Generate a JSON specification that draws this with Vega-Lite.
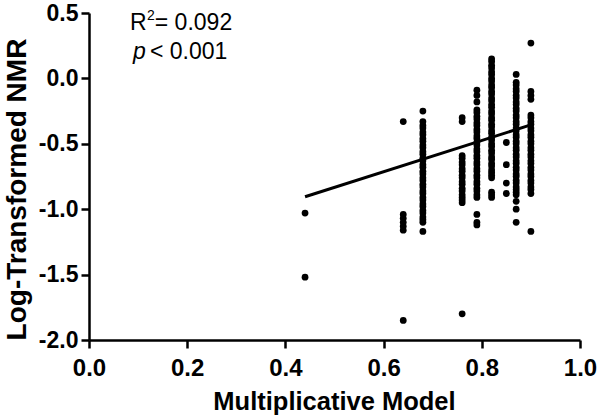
{
  "$schema": "https://vega.github.io/schema/vega-lite/v6.json",
  "autosize": {"type": "none"},
  "width": 491,
  "height": 327,
  "padding": {"left": 89, "top": 13, "right": 20, "bottom": 77},
  "background": "white",
  "config": {
    "view": {"stroke": null},
    "font": "Liberation Sans",
    "axis": {
      "grid": false,
      "labelFlush": false,
      "labelOverlap": false,
      "domainColor": "black",
      "domainWidth": 2.5,
      "tickColor": "black",
      "tickWidth": 2.5,
      "tickSize": 8,
      "labelColor": "black",
      "labelFont": "Liberation Sans",
      "labelFontWeight": "bold",
      "titleFont": "Liberation Sans",
      "titleFontWeight": "bold",
      "titleColor": "black"
    }
  },
  "datasets": {
    "pts": [
      {"x":0.44,"y":-1.03},{"x":0.44,"y":-1.52},
      {"x":0.64,"y":-0.33},{"x":0.64,"y":-1.04},{"x":0.64,"y":-1.07},{"x":0.64,"y":-1.10},{"x":0.64,"y":-1.13},{"x":0.64,"y":-1.16},{"x":0.64,"y":-1.85},
      {"x":0.68,"y":-0.25},{"x":0.68,"y":-0.33},{"x":0.68,"y":-0.36},{"x":0.68,"y":-0.38},{"x":0.68,"y":-0.41},{"x":0.68,"y":-0.43},{"x":0.68,"y":-0.46},{"x":0.68,"y":-0.48},{"x":0.68,"y":-0.51},{"x":0.68,"y":-0.53},{"x":0.68,"y":-0.56},{"x":0.68,"y":-0.58},{"x":0.68,"y":-0.61},{"x":0.68,"y":-0.63},{"x":0.68,"y":-0.66},{"x":0.68,"y":-0.68},{"x":0.68,"y":-0.71},{"x":0.68,"y":-0.73},{"x":0.68,"y":-0.76},{"x":0.68,"y":-0.78},{"x":0.68,"y":-0.81},{"x":0.68,"y":-0.83},{"x":0.68,"y":-0.86},{"x":0.68,"y":-0.88},{"x":0.68,"y":-0.91},{"x":0.68,"y":-0.93},{"x":0.68,"y":-0.96},{"x":0.68,"y":-0.98},{"x":0.68,"y":-1.01},{"x":0.68,"y":-1.03},{"x":0.68,"y":-1.06},{"x":0.68,"y":-1.08},{"x":0.68,"y":-1.10},{"x":0.68,"y":-1.17},
      {"x":0.76,"y":-0.30},{"x":0.76,"y":-0.33},{"x":0.76,"y":-0.59},{"x":0.76,"y":-0.61},{"x":0.76,"y":-0.64},{"x":0.76,"y":-0.66},{"x":0.76,"y":-0.69},{"x":0.76,"y":-0.71},{"x":0.76,"y":-0.74},{"x":0.76,"y":-0.76},{"x":0.76,"y":-0.79},{"x":0.76,"y":-0.81},{"x":0.76,"y":-0.84},{"x":0.76,"y":-0.86},{"x":0.76,"y":-0.89},{"x":0.76,"y":-0.91},{"x":0.76,"y":-0.93},{"x":0.76,"y":-0.95},{"x":0.76,"y":-1.80},
      {"x":0.79,"y":-0.09},{"x":0.79,"y":-0.13},{"x":0.79,"y":-0.18},{"x":0.79,"y":-0.24},{"x":0.79,"y":-0.26},{"x":0.79,"y":-0.29},{"x":0.79,"y":-0.31},{"x":0.79,"y":-0.34},{"x":0.79,"y":-0.36},{"x":0.79,"y":-0.39},{"x":0.79,"y":-0.41},{"x":0.79,"y":-0.44},{"x":0.79,"y":-0.46},{"x":0.79,"y":-0.49},{"x":0.79,"y":-0.51},{"x":0.79,"y":-0.54},{"x":0.79,"y":-0.56},{"x":0.79,"y":-0.59},{"x":0.79,"y":-0.61},{"x":0.79,"y":-0.64},{"x":0.79,"y":-0.66},{"x":0.79,"y":-0.69},{"x":0.79,"y":-0.71},{"x":0.79,"y":-0.74},{"x":0.79,"y":-0.76},{"x":0.79,"y":-0.79},{"x":0.79,"y":-0.81},{"x":0.79,"y":-0.84},{"x":0.79,"y":-0.86},{"x":0.79,"y":-0.89},{"x":0.79,"y":-0.91},{"x":0.79,"y":-1.04},{"x":0.79,"y":-1.10},{"x":0.79,"y":-1.12},
      {"x":0.82,"y":0.15},{"x":0.82,"y":0.13},{"x":0.82,"y":0.10},{"x":0.82,"y":0.08},{"x":0.82,"y":0.05},{"x":0.82,"y":0.03},{"x":0.82,"y":0.00},{"x":0.82,"y":-0.02},{"x":0.82,"y":-0.05},{"x":0.82,"y":-0.07},{"x":0.82,"y":-0.10},{"x":0.82,"y":-0.12},{"x":0.82,"y":-0.15},{"x":0.82,"y":-0.17},{"x":0.82,"y":-0.20},{"x":0.82,"y":-0.22},{"x":0.82,"y":-0.25},{"x":0.82,"y":-0.27},{"x":0.82,"y":-0.30},{"x":0.82,"y":-0.32},{"x":0.82,"y":-0.35},{"x":0.82,"y":-0.37},{"x":0.82,"y":-0.40},{"x":0.82,"y":-0.42},{"x":0.82,"y":-0.45},{"x":0.82,"y":-0.47},{"x":0.82,"y":-0.50},{"x":0.82,"y":-0.52},{"x":0.82,"y":-0.55},{"x":0.82,"y":-0.57},{"x":0.82,"y":-0.60},{"x":0.82,"y":-0.62},{"x":0.82,"y":-0.65},{"x":0.82,"y":-0.67},{"x":0.82,"y":-0.70},{"x":0.82,"y":-0.72},{"x":0.82,"y":-0.74},{"x":0.82,"y":-0.76},{"x":0.82,"y":-0.87},{"x":0.82,"y":-0.89},{"x":0.82,"y":-0.91},
      {"x":0.85,"y":-0.49},{"x":0.85,"y":-0.66},{"x":0.85,"y":-0.80},{"x":0.85,"y":-0.88},
      {"x":0.87,"y":0.03},{"x":0.87,"y":-0.03},{"x":0.87,"y":-0.05},{"x":0.87,"y":-0.08},{"x":0.87,"y":-0.10},{"x":0.87,"y":-0.13},{"x":0.87,"y":-0.15},{"x":0.87,"y":-0.18},{"x":0.87,"y":-0.20},{"x":0.87,"y":-0.23},{"x":0.87,"y":-0.25},{"x":0.87,"y":-0.28},{"x":0.87,"y":-0.30},{"x":0.87,"y":-0.33},{"x":0.87,"y":-0.35},{"x":0.87,"y":-0.38},{"x":0.87,"y":-0.40},{"x":0.87,"y":-0.43},{"x":0.87,"y":-0.45},{"x":0.87,"y":-0.48},{"x":0.87,"y":-0.50},{"x":0.87,"y":-0.53},{"x":0.87,"y":-0.55},{"x":0.87,"y":-0.58},{"x":0.87,"y":-0.60},{"x":0.87,"y":-0.63},{"x":0.87,"y":-0.65},{"x":0.87,"y":-0.68},{"x":0.87,"y":-0.70},{"x":0.87,"y":-0.73},{"x":0.87,"y":-0.75},{"x":0.87,"y":-0.78},{"x":0.87,"y":-0.80},{"x":0.87,"y":-0.83},{"x":0.87,"y":-0.85},{"x":0.87,"y":-0.87},{"x":0.87,"y":-0.89},{"x":0.87,"y":-0.94},{"x":0.87,"y":-1.00},{"x":0.87,"y":-1.10},
      {"x":0.90,"y":0.27},{"x":0.90,"y":-0.10},{"x":0.90,"y":-0.13},{"x":0.90,"y":-0.16},{"x":0.90,"y":-0.28},{"x":0.90,"y":-0.30},{"x":0.90,"y":-0.33},{"x":0.90,"y":-0.35},{"x":0.90,"y":-0.38},{"x":0.90,"y":-0.40},{"x":0.90,"y":-0.43},{"x":0.90,"y":-0.45},{"x":0.90,"y":-0.48},{"x":0.90,"y":-0.50},{"x":0.90,"y":-0.53},{"x":0.90,"y":-0.55},{"x":0.90,"y":-0.58},{"x":0.90,"y":-0.60},{"x":0.90,"y":-0.63},{"x":0.90,"y":-0.65},{"x":0.90,"y":-0.68},{"x":0.90,"y":-0.70},{"x":0.90,"y":-0.73},{"x":0.90,"y":-0.75},{"x":0.90,"y":-0.78},{"x":0.90,"y":-0.80},{"x":0.90,"y":-0.83},{"x":0.90,"y":-0.85},{"x":0.90,"y":-0.88},{"x":0.90,"y":-1.17}
    ],
    "fit": [{"x":0.44,"y":-0.905},{"x":0.90,"y":-0.355}],
    "annR": [{"x":0.0835,"y":0.37,"t":"R"},{"x":0.134,"y":0.37,"t":"= 0.092"},{"x":0.124,"y":0.148,"t":"< 0.001"}],
    "annSup": [{"x":0.118,"y":0.446,"t":"2"}],
    "annP": [{"x":0.0896,"y":0.148,"t":"p"}]
  },
  "layer": [
    {
      "data": {"name": "pts"},
      "mark": {"type": "point", "filled": true, "color": "black", "opacity": 1, "size": 46},
      "encoding": {
        "x": {"field": "x", "type": "quantitative", "scale": {"domain": [0, 1], "nice": false, "zero": false},
          "axis": {"values": [0, 0.2, 0.4, 0.6, 0.8, 1.0], "format": ".1f", "labelFontSize": 24, "labelPadding": 8,
            "title": "Multiplicative Model", "titleFontSize": 25.5, "titleX": 245, "titleY": 69, "titleBaseline": "alphabetic", "titleAlign": "center"}},
        "y": {"field": "y", "type": "quantitative", "scale": {"domain": [-2, 0.5], "nice": false, "zero": false},
          "axis": {"values": [-2, -1.5, -1, -0.5, 0, 0.5], "labelExpr": "replace(format(datum.value, '.1f'), '\u2212', '-')", "labelFontSize": 23, "labelPadding": 3,
            "title": "Log-Transformed NMR", "titleFontSize": 28, "titleAngle": -90, "titleX": -64, "titleY": 176, "titleBaseline": "alphabetic", "titleAlign": "center"}}
      }
    },
    {
      "data": {"name": "fit"},
      "mark": {"type": "line", "color": "black", "strokeWidth": 3},
      "encoding": {"x": {"field": "x", "type": "quantitative"}, "y": {"field": "y", "type": "quantitative"}}
    },
    {
      "data": {"name": "annR"},
      "mark": {"type": "text", "fontSize": 23, "align": "left", "baseline": "alphabetic", "color": "black", "font": "Liberation Sans"},
      "encoding": {"x": {"field": "x", "type": "quantitative"}, "y": {"field": "y", "type": "quantitative"}, "text": {"field": "t"}}
    },
    {
      "data": {"name": "annSup"},
      "mark": {"type": "text", "fontSize": 14, "align": "left", "baseline": "alphabetic", "color": "black", "font": "Liberation Sans"},
      "encoding": {"x": {"field": "x", "type": "quantitative"}, "y": {"field": "y", "type": "quantitative"}, "text": {"field": "t"}}
    },
    {
      "data": {"name": "annP"},
      "mark": {"type": "text", "fontSize": 23, "fontStyle": "italic", "align": "left", "baseline": "alphabetic", "color": "black", "font": "Liberation Sans"},
      "encoding": {"x": {"field": "x", "type": "quantitative"}, "y": {"field": "y", "type": "quantitative"}, "text": {"field": "t"}}
    }
  ]
}
